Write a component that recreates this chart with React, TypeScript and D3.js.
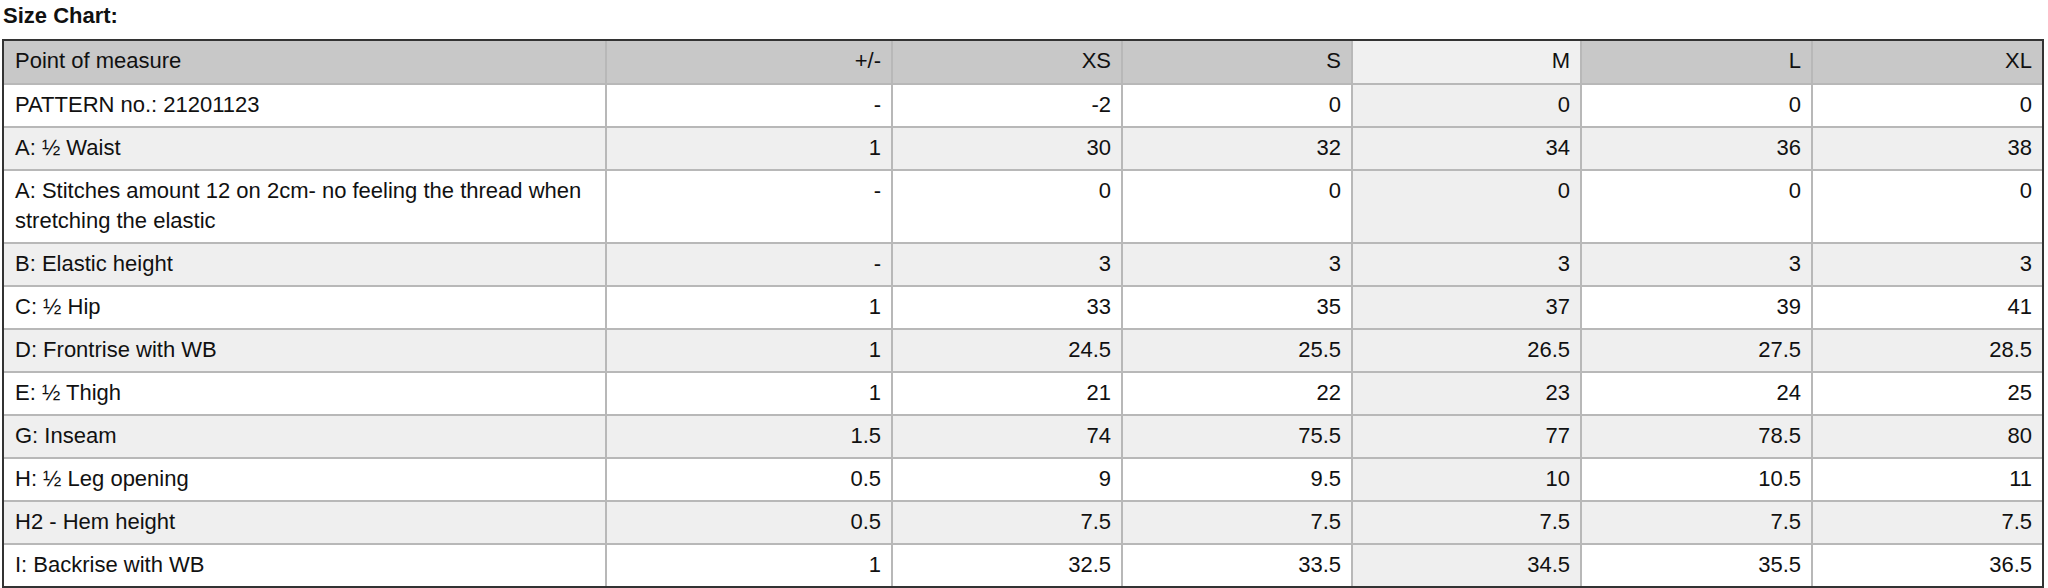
import React from 'react';
import * as d3 from 'd3';

const title = 'Size Chart:';
const sizes = ['XS', 'S', 'M', 'L', 'XL'];
const measures = [
    'PATTERN no.: 21201123',
    'A: ½ Waist',
    'A: Stitches amount 12 on 2cm- no feeling the thread when stretching the elastic',
    'B: Elastic height',
    'C: ½ Hip',
    'D: Frontrise with WB',
    'E: ½ Thigh',
    'G: Inseam',
    'H: ½ Leg opening',
    'H2 - Hem height',
    'I: Backrise with WB'
];
const tolerance = ['-', '1', '-', '-', '1', '1', '1', '1.5', '0.5', '0.5', '1'];
const xs = [-2, 30, 0, 3, 33, 24.5, 21, 74, 9, 7.5, 32.5];
const s = [0, 32, 0, 3, 35, 25.5, 22, 75.5, 9.5, 7.5, 33.5];
const m = [0, 34, 0, 3, 37, 26.5, 23, 77, 10, 7.5, 34.5];
const l = [0, 36, 0, 3, 39, 27.5, 24, 78.5, 10.5, 7.5, 35.5];
const xl = [0, 38, 0, 3, 41, 28.5, 25, 80, 11, 7.5, 36.5];
const highlighted = 'M';

const width = 2048;
const height = 588;
const tableTop = 40;
const tableLeft = 3;
const colWidths = [603, 286, 230, 230, 229, 231, 231];
const headerHeight = 44;
const lineHeight = 30;
const rowPad = 13;
const padX = 11;
const baseline = 28;
const font = '22px "Liberation Sans", Arial, sans-serif';

const measureCtx = typeof document !== 'undefined' ? document.createElement('canvas').getContext('2d') : null;

function wrap(text: string, maxWidth: number): string[] {
    if (!measureCtx) return [text];
    measureCtx.font = font;
    const words = text.split(' ');
    const lines: string[] = [];
    let cur = '';
    words.forEach(w => {
        const next = cur ? cur + ' ' + w : w;
        if (measureCtx.measureText(next).width > maxWidth && cur) {
            lines.push(cur);
            cur = w;
        } else {
            cur = next;
        }
    });
    if (cur) lines.push(cur);
    return lines;
}

const App: React.FC = () => {
    const columns = ['Point of measure', '+/-', ...sizes];
    const series = [xs, s, m, l, xl];
    const colEdges = [tableLeft, ...Array.from(d3.cumsum(colWidths), v => tableLeft + v)];
    const labelLines = measures.map(t => wrap(t, colWidths[0] - 2 * padX));
    const rowHeights = [headerHeight, ...labelLines.map(ls => rowPad + lineHeight * ls.length)];
    const rowEdges = [tableTop, ...Array.from(d3.cumsum(rowHeights), v => tableTop + v)];
    const tableRight = colEdges[colEdges.length - 1];
    const tableBottom = rowEdges[rowEdges.length - 1];

    const cellText = (r: number, c: number): string[] => {
        if (c === 0) return labelLines[r];
        if (c === 1) return [tolerance[r]];
        return [String(series[c - 2][r])];
    };

    const fillFor = (r: number, c: number) => {
        const isM = columns[c] === highlighted;
        if (r < 0) return isM ? '#f0f0f0' : '#c8c8c8';
        if (isM) return '#efefef';
        return r % 2 === 1 ? '#efefef' : '#ffffff';
    };

    return (
        <svg width={width} height={height} style={{ position: 'absolute', left: 0, top: 0 }}
            fontFamily='"Liberation Sans", Arial, sans-serif'>
            <rect width={width} height={height} fill="#fff" />
            <text x={3} y={23} fontSize={22} fontWeight="bold" fill="#111">{title}</text>

            {/* header */}
            {columns.map((col, c) => (
                <g key={'h' + c}>
                    <rect x={colEdges[c]} y={rowEdges[0]} width={colEdges[c + 1] - colEdges[c]}
                        height={rowHeights[0]} fill={fillFor(-1, c)} />
                    <text x={c === 0 ? colEdges[c] + padX + 1 : colEdges[c + 1] - padX}
                        y={rowEdges[0] + baseline} fontSize={22} fill="#111"
                        textAnchor={c === 0 ? 'start' : 'end'}>{col}</text>
                </g>
            ))}

            {/* body */}
            {measures.map((_, r) => (
                <g key={'r' + r}>
                    {columns.map((__, c) => (
                        <g key={c}>
                            <rect x={colEdges[c]} y={rowEdges[r + 1]} width={colEdges[c + 1] - colEdges[c]}
                                height={rowHeights[r + 1]} fill={fillFor(r, c)} />
                            {cellText(r, c).map((line, li) => (
                                <text key={li} x={c === 0 ? colEdges[c] + padX + 1 : colEdges[c + 1] - padX}
                                    y={rowEdges[r + 1] + baseline + li * lineHeight} fontSize={22} fill="#111"
                                    textAnchor={c === 0 ? 'start' : 'end'}>{line}</text>
                            ))}
                        </g>
                    ))}
                </g>
            ))}

            {/* grid */}
            <g stroke="#b8b8b8" strokeWidth={2}>
                {rowEdges.slice(1, -1).map((y, i) => (
                    <line key={'y' + i} x1={tableLeft} x2={tableRight} y1={y} y2={y} />
                ))}
                {colEdges.slice(1, -1).map((x, i) => (
                    <line key={'x' + i} x1={x} x2={x} y1={tableTop} y2={tableBottom} />
                ))}
            </g>
            <rect x={tableLeft} y={tableTop} width={tableRight - tableLeft} height={tableBottom - tableTop}
                fill="none" stroke="#333" strokeWidth={2} />
        </svg>
    );
};

export default App;
